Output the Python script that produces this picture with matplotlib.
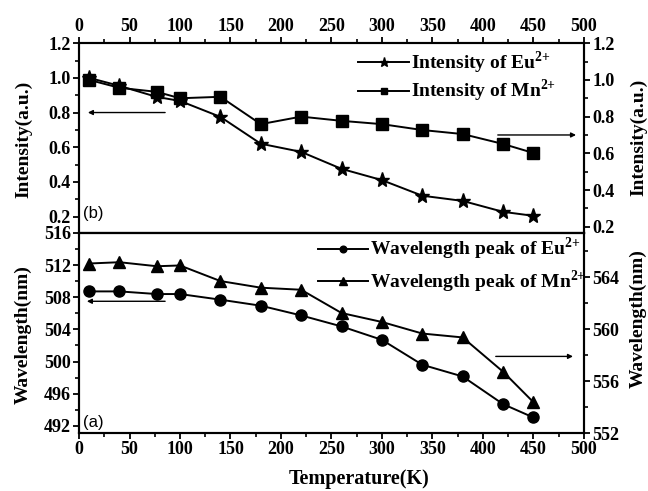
import matplotlib
matplotlib.use('Agg')
import matplotlib.pyplot as plt

plt.rcParams['font.family'] = 'Liberation Serif'
plt.rcParams['font.weight'] = 'bold'
plt.rcParams['mathtext.fontset'] = 'custom'
plt.rcParams['mathtext.rm'] = 'Liberation Serif:bold'
plt.rcParams['mathtext.bf'] = 'Liberation Serif:bold'

# data
temp = [10, 40, 77, 100, 140, 180, 220, 260, 300, 340, 380, 420, 450]
int_eu = [1.0, 0.954, 0.89, 0.867, 0.775, 0.62, 0.573, 0.475, 0.41, 0.32, 0.29, 0.227, 0.204]
int_mn = [1.0, 0.957, 0.935, 0.90, 0.908, 0.759, 0.80, 0.777, 0.759, 0.727, 0.705, 0.651, 0.602]
wl_eu = [508.73, 508.73, 508.4, 508.4, 507.7, 506.95, 505.74, 504.37, 502.7, 499.6, 498.14, 494.7, 493.04]
wl_mn = [565.05, 565.15, 564.84, 564.9, 563.7, 563.19, 563.03, 561.24, 560.55, 559.66, 559.36, 556.72, 554.38]

xticks = [0, 50, 100, 150, 200, 250, 300, 350, 400, 450, 500]
int_ticks = [0.2, 0.4, 0.6, 0.8, 1.0, 1.2]
wl_left_ticks = [492, 496, 500, 504, 508, 512, 516]
wl_right_ticks = [552, 556, 560, 564]

fig = plt.figure(figsize=(6.48, 4.91), dpi=100)
ax1 = fig.add_axes([0.122, 0.5255, 0.779, 0.3865])
ax2 = fig.add_axes([0.122, 0.118, 0.779, 0.4075])
ax1r = ax1.twinx()
ax2r = ax2.twinx()

lw = 1.4
ms = 8

# top panel: intensity
l1, = ax1.plot(temp, int_eu, '-k', marker='*', ms=ms + 3, lw=lw)
l2, = ax1r.plot(temp, int_mn, '-k', marker='s', ms=ms, lw=lw)
ax1.set_ylim(0.105, 1.2)
ax1r.set_ylim(0.166, 1.2)
ax1.set_yticks(int_ticks)
ax1.set_yticks([0.3, 0.5, 0.7, 0.9, 1.1], minor=True)
ax1r.set_yticks(int_ticks)
ax1r.set_yticks([0.3, 0.5, 0.7, 0.9, 1.1], minor=True)
ax1.xaxis.tick_top()
ax1.tick_params(axis='x', which='both', bottom=False, labelbottom=False, top=True, labeltop=True)

# bottom panel: wavelength
l3, = ax2.plot(temp, wl_eu, '-k', marker='o', ms=ms, lw=lw)
l4, = ax2r.plot(temp, wl_mn, '-k', marker='^', ms=ms + 1, lw=lw)
ax2.set_ylim(491.1, 516)
ax2r.set_ylim(552, 567.4)
ax2.set_yticks(wl_left_ticks)
ax2.set_yticks([494, 498, 502, 506, 510, 514], minor=True)
ax2r.set_yticks(wl_right_ticks)
ax2r.set_yticks([554, 558, 562, 566], minor=True)
ax2.tick_params(axis='x', which='both', top=False)

for ax in [ax1, ax2]:
    ax.set_xlim(0, 500)
    ax.set_xticks(xticks)
    ax.set_xticks(range(25, 500, 50), minor=True)

for ax in [ax1, ax1r, ax2, ax2r]:
    for s in ax.spines.values():
        s.set_linewidth(1.5)
    ax.tick_params(which='major', direction='out', length=4, width=1.3, labelsize=13, pad=2)
    ax.tick_params(which='minor', direction='out', length=3, width=1.2)

# legends
leg_kw = dict(frameon=False, fontsize=14, handlelength=2.6, handletextpad=0.1,
              borderaxespad=0.2, markerscale=0.6)
ax1r.legend([l1, l2], [r'Intensity of Eu$^{2\text{+}}$', r'Intensity of Mn$^{2\text{+}}$'],
            loc='upper left', bbox_to_anchor=(0.53, 1.03), labelspacing=0.1, **leg_kw)
ax2r.legend([l3, l4], [r'Wavelength peak of Eu$^{2\text{+}}$', r'Wavelength peak of Mn$^{2\text{+}}$'],
            loc='upper left', bbox_to_anchor=(0.45, 1.045), labelspacing=0.3, **leg_kw)

# arrows pointing to the axes
arr = dict(arrowstyle='-|>', lw=1.0, color='black', mutation_scale=7)
ax1.annotate('', xy=(6, 0.8), xytext=(88, 0.8), arrowprops=arr)
ax1r.annotate('', xy=(495, 0.70), xytext=(412, 0.70), arrowprops=arr)
ax2.annotate('', xy=(5, 507.5), xytext=(88, 507.5), arrowprops=arr)
ax2r.annotate('', xy=(492, 557.9), xytext=(410, 557.9), arrowprops=arr)

ax1.text(0.008, 0.08, '(b)', transform=ax1.transAxes, family='Liberation Sans',
         weight='normal', fontsize=12)
ax2.text(0.008, 0.03, '(a)', transform=ax2.transAxes, family='Liberation Sans',
         weight='normal', fontsize=12)

fig.text(0.036, 0.717, 'Intensity(a.u.)', rotation=90, ha='center', va='center', fontsize=14)
fig.text(0.036, 0.318, 'Wavelength(nm)', rotation=90, ha='center', va='center', fontsize=14)
fig.text(0.986, 0.72, 'Intensity(a.u.)', rotation=90, ha='center', va='center', fontsize=14)
fig.text(0.985, 0.352, 'Wavelength(nm)', rotation=90, ha='center', va='center', fontsize=14)
fig.text(0.554, 0.024, 'Temperature(K)', ha='center', va='center', fontsize=14.5)

fig.savefig('out.png', dpi=100)
